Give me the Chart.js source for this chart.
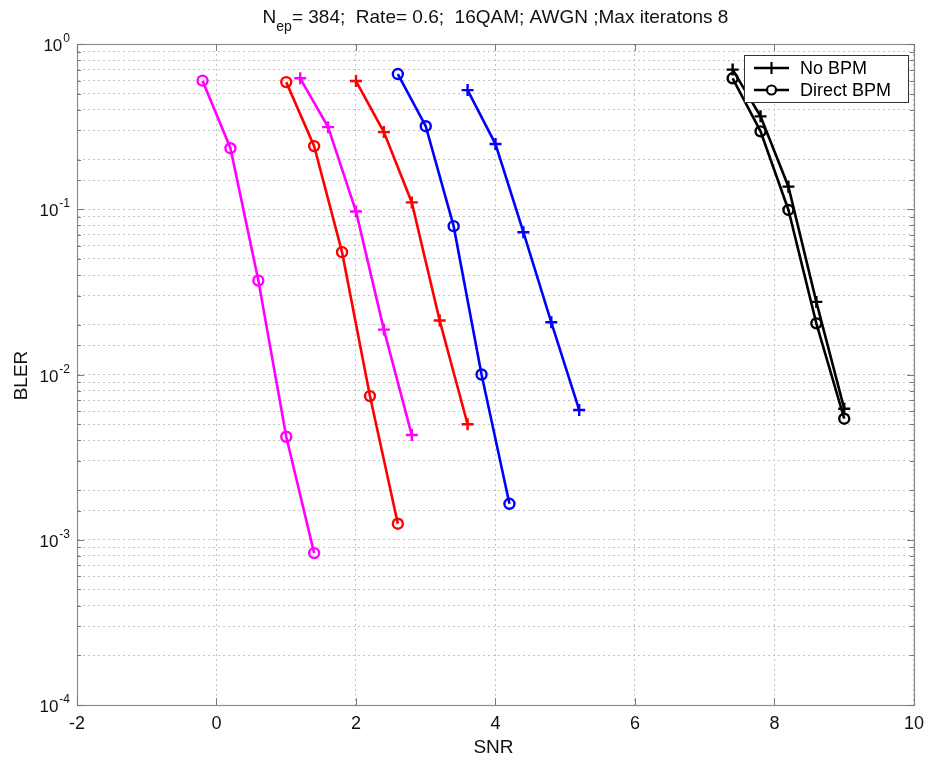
<!DOCTYPE html>
<html>
<head>
<meta charset="utf-8">
<script src="https://cdn.jsdelivr.net/npm/chart.js@4.4.1/dist/chart.umd.min.js"></script>
<style>
  html, body { margin: 0; padding: 0; background: #fff; }
  #wrap { width: 932px; height: 762px; position: relative; }
</style>
</head>
<body>
<div id="wrap"><canvas id="mainChart" width="932" height="762"></canvas></div>
<script>
// --- datos ---
const snrMagO = [-0.2, 0.2, 0.6, 1.0, 1.4];
const blerMagO = [0.60, 0.234, 0.037, 0.0042, 0.00083];
const snrMagP = [1.2, 1.6, 2.0, 2.4, 2.8];
const blerMagP = [0.62, 0.314, 0.097, 0.0187, 0.0043];

const snrRedO = [1.0, 1.4, 1.8, 2.2, 2.6];
const blerRedO = [0.588, 0.241, 0.055, 0.0074, 0.00125];
const snrRedP = [2.0, 2.4, 2.8, 3.2, 3.6];
const blerRedP = [0.597, 0.293, 0.110, 0.0212, 0.0050];

const snrBlueO = [2.6, 3.0, 3.4, 3.8, 4.2];
const blerBlueO = [0.658, 0.318, 0.079, 0.0100, 0.00165];
const snrBlueP = [3.6, 4.0, 4.4, 4.8, 5.2];
const blerBlueP = [0.526, 0.248, 0.0726, 0.0207, 0.0061];

const snrBlackP = [7.4, 7.8, 8.2, 8.6, 9.0];
const blerBlackP = [0.70, 0.365, 0.137, 0.0275, 0.0062];
const snrBlackO = [7.4, 7.8, 8.2, 8.6, 9.0];
const blerBlackO = [0.62, 0.296, 0.099, 0.0204, 0.0054];

const legendLabels = ['No BPM', 'Direct BPM'];
const xTicks = [-2, 0, 2, 4, 6, 8, 10];
const yDecades = [0, -1, -2, -3, -4];

const FONT = '"Liberation Sans", Arial, Helvetica, sans-serif';

function pts(xs, ys) { return xs.map((x, i) => ({ x: x, y: ys[i] })); }

function serie(xs, ys, color, marker) {
    return {
        data: pts(xs, ys),
        borderColor: color,
        backgroundColor: color,
        borderWidth: 2.6,
        pointStyle: marker === 'o' ? 'circle' : 'cross',
        pointRadius: marker === 'o' ? 5 : 6,
        pointBorderWidth: 2.4,
        pointBackgroundColor: 'rgba(0,0,0,0)',
        pointBorderColor: color,
        tension: 0
    };
}

const datasets = [
    serie(snrMagO, blerMagO, '#ff00ff', 'o'),
    serie(snrMagP, blerMagP, '#ff00ff', '+'),
    serie(snrRedO, blerRedO, '#ff0000', 'o'),
    serie(snrRedP, blerRedP, '#ff0000', '+'),
    serie(snrBlueO, blerBlueO, '#0000ff', 'o'),
    serie(snrBlueP, blerBlueP, '#0000ff', '+'),
    serie(snrBlackP, blerBlackP, '#000000', '+'),
    serie(snrBlackO, blerBlackO, '#000000', 'o')
];

// dibujo estilo matlab: caja, ticks internos, etiquetas con exponente, leyenda
const matlabPlugin = {
    id: 'matlab',
    afterDraw(chart) {
        const ctx = chart.ctx;
        const a = chart.chartArea;
        const xs = chart.scales.x, ys = chart.scales.y;
        ctx.save();

        // caja
        ctx.strokeStyle = '#8c8c8c';
        ctx.lineWidth = 1.2;
        ctx.strokeRect(a.left + 0.5, a.top + 0.5, a.right - a.left, a.bottom - a.top);

        // ticks internos
        ctx.strokeStyle = '#7a7a7a';
        ctx.lineWidth = 1;
        ctx.beginPath();
        xTicks.forEach(v => {
            const px = Math.round(xs.getPixelForValue(v)) + 0.5;
            ctx.moveTo(px, a.bottom); ctx.lineTo(px, a.bottom - 7);
            ctx.moveTo(px, a.top); ctx.lineTo(px, a.top + 7);
        });
        ys.ticks.forEach(t => {
            const py = Math.round(ys.getPixelForValue(t.value)) + 0.5;
            const major = Math.abs(Math.log10(t.value) - Math.round(Math.log10(t.value))) < 1e-6;
            const len = major ? 7 : 4;
            ctx.moveTo(a.left, py); ctx.lineTo(a.left + len, py);
            ctx.moveTo(a.right, py); ctx.lineTo(a.right - len, py);
        });
        ctx.stroke();

        ctx.fillStyle = '#111';
        // etiquetas eje Y 10^n
        yDecades.forEach(e => {
            const py = ys.getPixelForValue(Math.pow(10, e));
            const sup = String(e);
            ctx.font = '12px ' + FONT;
            const wSup = ctx.measureText(sup).width;
            ctx.textAlign = 'left';
            ctx.textBaseline = 'alphabetic';
            ctx.fillText(sup, a.left - 7 - wSup, py - 2);
            ctx.font = '17px ' + FONT;
            ctx.textAlign = 'right';
            ctx.fillText('10', a.left - 8 - wSup, py + 7);
        });

        // titulos de ejes
        ctx.font = '19px ' + FONT;
        ctx.textAlign = 'center';
        ctx.textBaseline = 'alphabetic';
        ctx.fillText('SNR', (a.left + a.right) / 2 - 2, 753);
        ctx.save();
        ctx.translate(27, (a.top + a.bottom) / 2 + 1);
        ctx.rotate(-Math.PI / 2);
        ctx.fillText('BLER', 0, 0);
        ctx.restore();

        // titulo con subindice
        const p1 = 'N', sub = 'ep', p2 = '= 384;  Rate= 0.6;  16QAM; AWGN ;Max iteratons 8';
        ctx.font = '19px ' + FONT;
        const w1 = ctx.measureText(p1).width, w3 = ctx.measureText(p2).width;
        ctx.font = '14px ' + FONT;
        const w2 = ctx.measureText(sub).width;
        let tx = (a.left + a.right) / 2 - (w1 + w2 + w3) / 2;
        ctx.textAlign = 'left';
        ctx.font = '19px ' + FONT;
        ctx.fillText(p1, tx, 23);
        ctx.font = '14px ' + FONT;
        ctx.fillText(sub, tx + w1, 31);
        ctx.font = '19px ' + FONT;
        ctx.fillText(p2, tx + w1 + w2, 23);

        // leyenda
        const lx = 744, ly = 55, lw = 164, lh = 47;
        ctx.fillStyle = '#fff';
        ctx.fillRect(lx, ly, lw, lh);
        ctx.strokeStyle = '#333';
        ctx.lineWidth = 1;
        ctx.strokeRect(lx + 0.5, ly + 0.5, lw, lh);
        legendLabels.forEach((lab, i) => {
            const yy = ly + 13 + i * 22;
            ctx.strokeStyle = '#000';
            ctx.lineWidth = 2.6;
            ctx.beginPath();
            ctx.moveTo(754, yy); ctx.lineTo(789, yy);
            ctx.stroke();
            ctx.lineWidth = 2.2;
            ctx.beginPath();
            if (i === 0) {
                ctx.moveTo(771.5 - 6, yy); ctx.lineTo(771.5 + 6, yy);
                ctx.moveTo(771.5, yy - 6); ctx.lineTo(771.5, yy + 6);
            } else {
                ctx.arc(771.5, yy, 4.5, 0, Math.PI * 2);
            }
            ctx.stroke();
            if (i === 1) { ctx.fillStyle = '#fff'; ctx.beginPath(); ctx.arc(771.5, yy, 3.3, 0, Math.PI * 2); ctx.fill(); }
            ctx.fillStyle = '#000';
            ctx.font = '18px ' + FONT;
            ctx.textAlign = 'left';
            ctx.textBaseline = 'middle';
            ctx.fillText(lab, 800, yy + 1);
        });

        ctx.restore();
    }
};

const ctx = document.getElementById('mainChart').getContext('2d');
const myChart = new Chart(ctx, {
    type: 'line',
    data: { datasets: datasets },
    options: {
        responsive: false,
        animation: false,
        layout: { padding: { top: 44, right: 14, left: 0, bottom: 0 } },
        plugins: { legend: { display: false }, tooltip: { enabled: false } },
        scales: {
            x: {
                type: 'linear',
                min: -2, max: 10,
                afterFit: s => { s.height = 57; },
                afterBuildTicks: s => { s.ticks = xTicks.map(v => ({ value: v })); },
                grid: { color: '#c4c4c4', lineWidth: 1, drawTicks: false },
                border: { display: true, color: '#8c8c8c', dash: [2, 3] },
                ticks: { color: '#111', font: { family: FONT, size: 18 }, padding: 8, maxRotation: 0 }
            },
            y: {
                type: 'logarithmic',
                min: 1e-4, max: 1,
                afterFit: s => { s.width = 77; },
                grid: { color: '#c4c4c4', lineWidth: 1, drawTicks: false },
                border: { display: true, color: '#8c8c8c', dash: [2, 3] },
                ticks: { display: false, autoSkip: false }
            }
        }
    },
    plugins: [matlabPlugin]
});
</script>
</body>
</html>
